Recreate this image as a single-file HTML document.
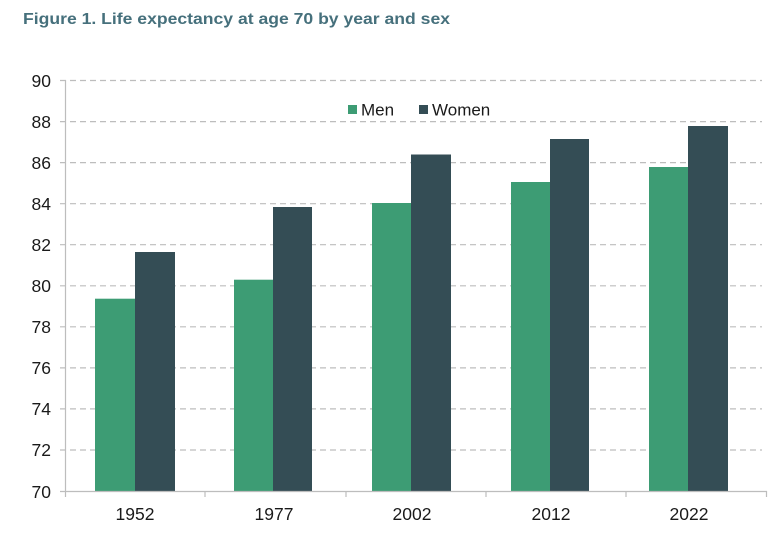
<!DOCTYPE html>
<html><head><meta charset="utf-8"><style>
html,body{margin:0;padding:0;background:#fff;width:776px;height:539px;overflow:hidden}
</style></head><body>
<svg width="776" height="539" xmlns="http://www.w3.org/2000/svg" font-family="Liberation Sans, Arial, sans-serif">
<text x="23" y="24" font-size="15.5" font-weight="bold" fill="#46707c" textLength="427" lengthAdjust="spacingAndGlyphs">Figure 1. Life expectancy at age 70 by year and sex</text>
<g stroke="#bdbdbd" stroke-width="1.2" stroke-dasharray="6,4">
<line x1="60" x2="762" y1="80.5" y2="80.5"/>
<line x1="60" x2="762" y1="121.6" y2="121.6"/>
<line x1="60" x2="762" y1="162.6" y2="162.6"/>
<line x1="60" x2="762" y1="203.7" y2="203.7"/>
<line x1="60" x2="762" y1="244.7" y2="244.7"/>
<line x1="60" x2="762" y1="285.8" y2="285.8"/>
<line x1="60" x2="762" y1="326.8" y2="326.8"/>
<line x1="60" x2="762" y1="367.9" y2="367.9"/>
<line x1="60" x2="762" y1="408.9" y2="408.9"/>
<line x1="60" x2="762" y1="450" y2="450"/>
</g>
<g font-size="17.5" fill="#1a1a1a" text-anchor="end">
<text x="51" y="87">90</text><text x="51" y="128">88</text><text x="51" y="169">86</text>
<text x="51" y="210">84</text><text x="51" y="251">82</text><text x="51" y="292">80</text>
<text x="51" y="333">78</text><text x="51" y="374">76</text><text x="51" y="415">74</text>
<text x="51" y="456">72</text><text x="51" y="498">70</text>
</g>
<g fill="#3d9c74">
<rect x="95" y="298.7" width="40" height="192.3"/>
<rect x="234" y="279.7" width="39" height="211.3"/>
<rect x="372" y="203" width="39" height="288"/>
<rect x="511" y="182" width="39" height="309"/>
<rect x="649" y="167" width="39" height="324"/>
</g>
<g fill="#344d55">
<rect x="135" y="252" width="40" height="239"/>
<rect x="273" y="207" width="39" height="284"/>
<rect x="411" y="154.5" width="40" height="336.5"/>
<rect x="550" y="139" width="39" height="352"/>
<rect x="688" y="126" width="40" height="365"/>
</g>
<g stroke="#bdbdbd" stroke-width="1.2">
<line x1="65.5" x2="65.5" y1="80" y2="497"/>
<line x1="60" x2="767" y1="491.5" y2="491.5"/>
<line x1="205" x2="205" y1="491" y2="497"/>
<line x1="346" x2="346" y1="491" y2="497"/>
<line x1="486" x2="486" y1="491" y2="497"/>
<line x1="626" x2="626" y1="491" y2="497"/>
<line x1="766.5" x2="766.5" y1="491" y2="497"/>
</g>
<g font-size="17.5" fill="#1a1a1a" text-anchor="middle">
<text x="135" y="520">1952</text><text x="274" y="520">1977</text><text x="412" y="520">2002</text>
<text x="551" y="520">2012</text><text x="689" y="520">2022</text>
</g>
<rect x="348" y="105" width="9" height="9" fill="#3d9c74"/>
<text x="361" y="115.5" font-size="17" fill="#1a1a1a">Men</text>
<rect x="419" y="105" width="9" height="9" fill="#344d55"/>
<text x="432" y="115.5" font-size="17" fill="#1a1a1a">Women</text>
</svg>
</body></html>
